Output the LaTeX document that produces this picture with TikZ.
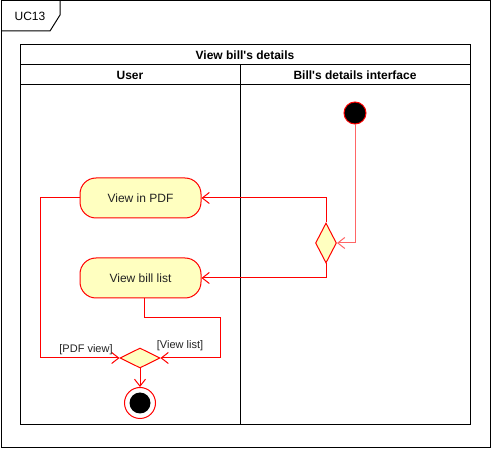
\documentclass[tikz,border=0pt]{standalone}
\usepackage{fontspec}
\setmainfont{Liberation Sans}
\usetikzlibrary{shapes.geometric, arrows.meta, positioning}
\definecolor{actfill}{HTML}{FFFFC0}
\definecolor{inktext}{HTML}{222222}

\begin{document}
\begin{tikzpicture}[x=1pt, y=-1pt, line width=1pt,
  act/.style={draw=red, fill=actfill, rounded corners=16pt, minimum width=121pt, minimum height=40pt, inner sep=0pt, font=\fontsize{12}{14}\selectfont, text=inktext},
  choice/.style={diamond, draw=red, fill=actfill, inner sep=0pt},
  flow/.style={draw=red, -{Straight Barb[length=7pt,width=11pt]}},
  head/.style={font=\bfseries\fontsize{12}{14}\selectfont},
  guard/.style={font=\fontsize{11}{13}\selectfont, text=inktext}]
\useasboundingbox (0,0) rectangle (491,449);
% frame and tab
\draw (1,1) rectangle (490,448);
\draw (1,31) -- (50,31) -- (60,15) -- (60,1);
\node[font=\fontsize{12}{14}\selectfont] (uc) at (30,16) {UC13};
% swimlanes
\draw (20,45) rectangle (470,425);
\draw (20,65) -- (470,65);
\draw (20,85) -- (470,85);
\draw (240,65) -- (240,425);
\node[head] (pool) at (245,55) {View bill\textquotesingle s details};
\node[head] (laneuser) at (130,75) {User};
\node[head] (laneui) at (355,75) {Bill\textquotesingle s details interface};
% nodes
\node[circle, draw=red, fill=black, minimum size=22pt, inner sep=0pt] (start) at (355,113) {};
\node[choice, minimum width=21pt, minimum height=40pt] (pick) at (326,243) {};
\node[act] (pdf) at (140.5,198) {View in PDF};
\node[act] (list) at (140.5,278) {View bill list};
\node[choice, minimum width=40pt, minimum height=20pt] (merge) at (140,358) {};
\node[circle, draw=red, fill=white, minimum size=31pt, inner sep=0pt] (stop) at (140,403) {};
\node[circle, fill=black, minimum size=21pt, inner sep=0pt] (stopdot) at (stop) {};
\coordinate (pdfbend) at (40,198);
\coordinate (listbend) at (220,318);
% flows
\draw[flow, draw=red!60] (start) |- (pick.east);
\draw[flow] (pick.north) |- (pdf.east);
\draw[flow] (pick.south) |- (list.east);
\draw[flow] (pdf.west) -- (pdfbend) |- (merge.west);
\draw[flow] ([xshift=3.5pt]list.south) |- (listbend) |- (merge.east);
\draw[flow] (merge.south) -- (stop.north);
\node[guard] (gpdf) at (86,350) {[PDF view]};
\node[guard] (glist) at (180,346) {[View list]};
\end{tikzpicture}
\end{document}
